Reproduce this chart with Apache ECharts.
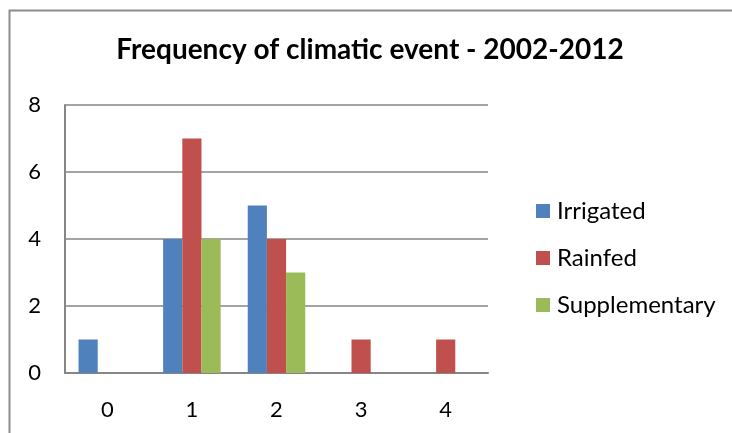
<!DOCTYPE html>
<html>
<head>
<meta charset="utf-8">
<script src="https://cdn.jsdelivr.net/npm/echarts@6/dist/echarts.min.js"></script>
<style>
  html, body { margin: 0; padding: 0; background: #fff; }
  #chart { width: 732px; height: 433px; }
</style>
</head>
<body>
<div id="chart"></div>
<script>
var categories = ['0', '1', '2', '3', '4'];
var irrigated = [1, 4, 5, 0, 0];
var rainfed = [0, 7, 4, 1, 1];
var supplementary = [0, 4, 3, 0, 0];

var chart = echarts.init(document.getElementById('chart'));

var option = {
    backgroundColor: '#fff',
    textStyle: { fontFamily: 'Lato' },
    title: {
        text: 'Frequency of climatic event - 2002-2012',
        left: 365,
        top: 31,
        textAlign: 'center',
        textStyle: { fontFamily: 'Lato', fontSize: 28, fontWeight: 'bold', color: '#000' }
    },
    graphic: [{
        type: 'rect',
        shape: { x: 9.5, y: 10.5, width: 800, height: 500 },
        style: { fill: 'none', stroke: '#8c8c8c', lineWidth: 2 },
        silent: true
    }],
    legend: {
        orient: 'vertical',
        left: 531,
        top: 194,
        icon: 'rect',
        itemWidth: 14,
        itemHeight: 14,
        itemGap: 23,
        textStyle: { fontFamily: 'Lato', fontSize: 24, color: '#000', padding: [0, 0, 0, 2] },
        data: ['Irrigated', 'Rainfed', 'Supplementary']
    },
    grid: {
        left: 65,
        top: 105,
        width: 423,
        height: 268
    },
    xAxis: {
        type: 'category',
        data: categories,
        axisLine: { lineStyle: { color: '#868686', width: 2 } },
        axisTick: { show: false },
        axisLabel: { fontFamily: 'Lato', fontSize: 22, color: '#000', margin: 26 }
    },
    yAxis: {
        type: 'value',
        min: 0,
        max: 8,
        interval: 2,
        axisLine: { show: true, lineStyle: { color: '#868686', width: 2 } },
        axisTick: { show: false },
        splitLine: { lineStyle: { color: '#868686', width: 1.5 } },
        axisLabel: { fontFamily: 'Lato', fontSize: 22, color: '#000', margin: 24 }
    },
    series: [
        {
            name: 'Irrigated',
            type: 'bar',
            data: irrigated,
            itemStyle: { color: '#4f81bd' },
            barGap: '0%',
            barCategoryGap: '32%'
        },
        {
            name: 'Rainfed',
            type: 'bar',
            data: rainfed,
            itemStyle: { color: '#c0504d' }
        },
        {
            name: 'Supplementary',
            type: 'bar',
            data: supplementary,
            itemStyle: { color: '#9bbb59' }
        }
    ]
};

chart.setOption(option);
</script>
</body>
</html>
